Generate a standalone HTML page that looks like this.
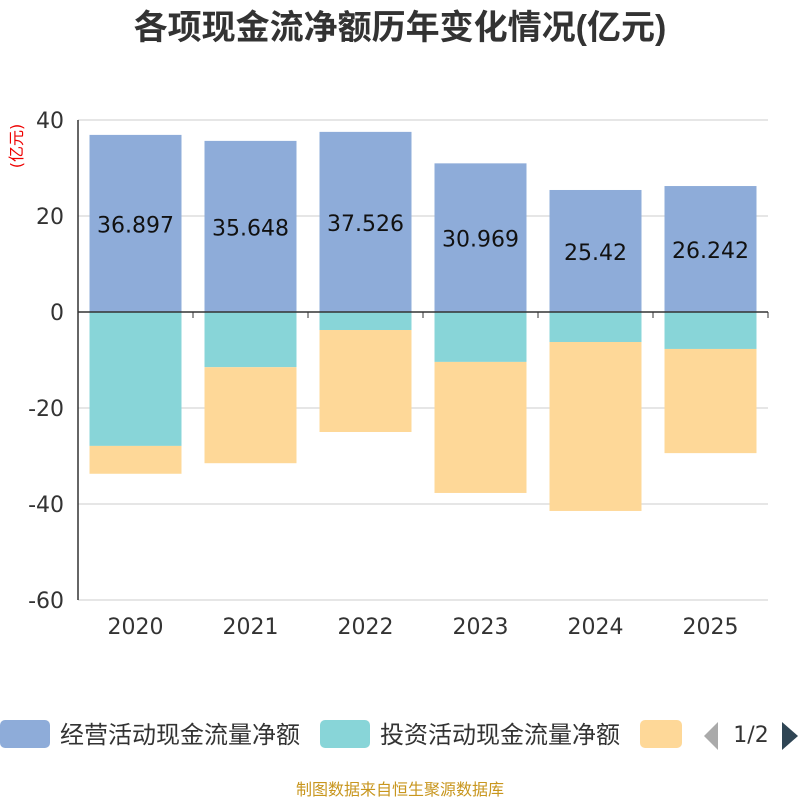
<!DOCTYPE html>
<html><head><meta charset="utf-8"><style>
body{margin:0;background:#fff;font-family:"Liberation Sans","Noto Sans CJK SC",sans-serif;}
</style></head><body>
<svg id="c" width="800" height="800" xmlns="http://www.w3.org/2000/svg" style="font-family:'DejaVu Sans','Noto Sans CJK SC',sans-serif">
<text x="400" y="39" text-anchor="middle" font-size="34" font-weight="bold" fill="#333" style="font-family:'Liberation Sans','Noto Sans CJK SC',sans-serif">各项现金流净额历年变化情况(亿元)</text>
<text transform="translate(22,146) rotate(-90)" text-anchor="middle" font-size="16" fill="#e00">(亿元)</text>
<g id="grid"></g><g id="bars"></g><g id="axes"></g>
<g>
<rect x="0" y="720" width="50" height="28" rx="5" fill="#8eacd9"/>
<text x="60" y="743" font-size="24" fill="#333">经营活动现金流量净额</text>
<rect x="320" y="720" width="50" height="28" rx="5" fill="#88d5d8"/>
<text x="380" y="743" font-size="24" fill="#333">投资活动现金流量净额</text>
<rect x="640" y="720" width="42" height="28" rx="5" fill="#fed898"/>
<polygon points="718,722 718,750 704,736" fill="#aaa"/>
<text x="751" y="742" text-anchor="middle" font-size="22" fill="#333">1/2</text>
<polygon points="782,722 782,750 798,736" fill="#2f4554"/>
</g>
<text x="400" y="795" text-anchor="middle" font-size="16" fill="#c8961e">制图数据来自恒生聚源数据库</text>
</svg>
<script>
const categories=["2020","2021","2022","2023","2024","2025"];
const operating=[36.897,35.648,37.526,30.969,25.42,26.242];
const investing=[-27.9,-11.5,-3.75,-10.4,-6.25,-7.7];
const financing=[-5.8,-20,-21.25,-27.3,-35.2,-21.7];
const yTicks=[40,20,0,-20,-40,-60];
const NS="http://www.w3.org/2000/svg";
const x0=78,x1=768,bw=(x1-x0)/categories.length;
function y(v){return 312-v*4.8;}
function mk(t,a,p){const e=document.createElementNS(NS,t);for(const k in a)e.setAttribute(k,a[k]);p.appendChild(e);return e;}
const grid=document.getElementById('grid'),bars=document.getElementById('bars'),axes=document.getElementById('axes');
yTicks.forEach(v=>{
 const l=mk('line',{x1:x0,x2:x1,y1:y(v),y2:y(v),stroke:'#ccc','stroke-width':1},grid);
 
 
 const t=mk('text',{x:x0-14,y:y(v)+8,'text-anchor':'end','font-size':22,fill:'#333'},axes);
 t.textContent=v;
 
 
});
categories.forEach((c,i)=>{
 const bx=x0+i*bw+bw*0.1,w=bw*0.8,cx=x0+(i+0.5)*bw;
 const r1=mk('rect',{x:bx,y:y(operating[i]),width:w,height:y(0)-y(operating[i]),fill:'#8eacd9'},bars);
 
 
 const r2=mk('rect',{x:bx,y:y(0),width:w,height:y(investing[i])-y(0),fill:'#88d5d8'},bars);
 
 
 const r3=mk('rect',{x:bx,y:y(investing[i]),width:w,height:y(investing[i]+financing[i])-y(investing[i]),fill:'#fed898'},bars);
 
 
 const lb=mk('text',{x:cx,y:y(operating[i]/2)+9,'text-anchor':'middle','font-size':22,fill:'#111'},bars);
 lb.textContent=operating[i];
 
 
 const t=mk('text',{x:cx,y:634,'text-anchor':'middle','font-size':22,fill:'#333'},axes);
 t.textContent=c;
 
 
});
for(let i=0;i<=categories.length;i++){
 const tk=mk('line',{x1:x0+i*bw,x2:x0+i*bw,y1:y(0),y2:y(0)+6,stroke:'#333'},axes);
 
 
}
const xa=mk('line',{x1:x0,x2:x1,y1:y(0),y2:y(0),stroke:'#333','stroke-width':1.5},axes);


const ya=mk('line',{x1:x0,x2:x0,y1:y(40),y2:y(-60),stroke:'#333','stroke-width':1.5},axes);


</script>
</body></html>
